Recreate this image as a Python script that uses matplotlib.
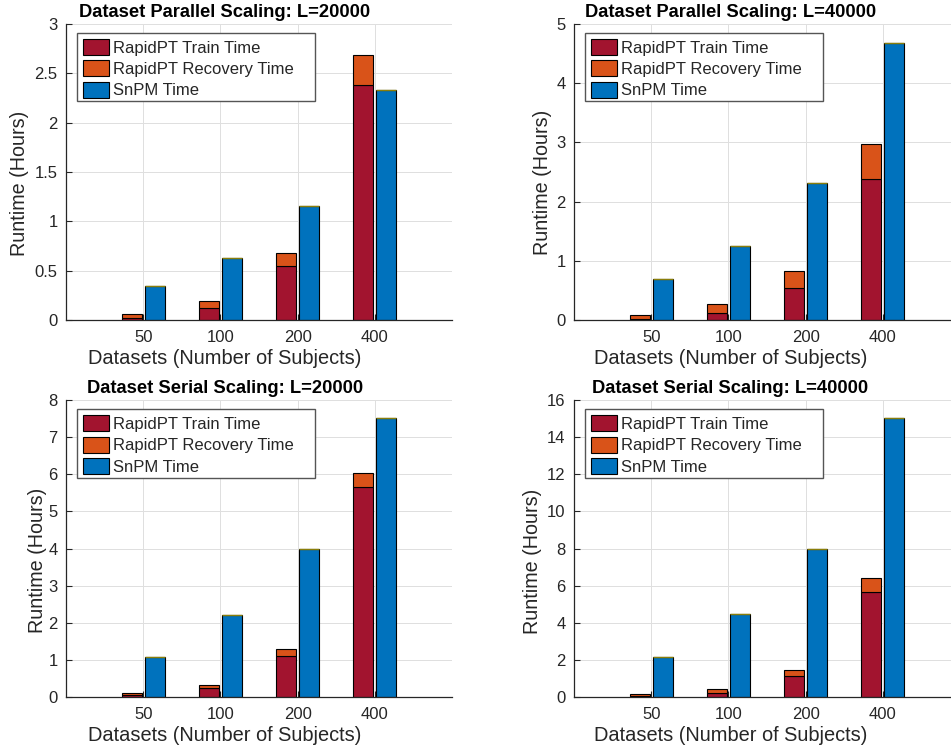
import numpy as np
import matplotlib
matplotlib.use("Agg")
import matplotlib.pyplot as plt
from matplotlib.patches import Rectangle

plt.rcParams['font.family'] = ['Liberation Sans', 'DejaVu Sans']

categories = ['50', '100', '200', '400']
series_names = ['RapidPT Train Time', 'RapidPT Recovery Time', 'SnPM Time']

titles = ['Dataset Parallel Scaling: L=20000', 'Dataset Parallel Scaling: L=40000',
          'Dataset Serial Scaling: L=20000', 'Dataset Serial Scaling: L=40000']

# Runtime in hours
train_par20 = [0.027, 0.128, 0.545, 2.38]
recov_par20 = [0.041, 0.067, 0.139, 0.30]
snpm_par20 = [0.346, 0.63, 1.155, 2.333]

train_par40 = [0.03, 0.13, 0.54, 2.38]
recov_par40 = [0.065, 0.14, 0.29, 0.59]
snpm_par40 = [0.70, 1.26, 2.31, 4.67]

train_ser20 = [0.054, 0.24, 1.11, 5.65]
recov_ser20 = [0.054, 0.09, 0.20, 0.38]
snpm_ser20 = [1.094, 2.22, 4.0, 7.51]

train_ser40 = [0.07, 0.23, 1.13, 5.68]
recov_ser40 = [0.09, 0.20, 0.36, 0.76]
snpm_ser40 = [2.19, 4.46, 8.0, 15.05]

ylims = [3, 5, 8, 16]
ysteps = [0.5, 1, 1, 2]

panels = [
    (train_par20, recov_par20, snpm_par20),
    (train_par40, recov_par40, snpm_par40),
    (train_ser20, recov_ser20, snpm_ser20),
    (train_ser40, recov_ser40, snpm_ser40),
]

RED = '#A2142F'
ORANGE = '#D95319'
BLUE = '#0072BD'
AXC = '#262626'

W, H = 951, 748
fig = plt.figure(figsize=(W / 100, H / 100), dpi=100)

# axes boxes in pixels: left, top, right, bottom
boxes = [(66, 23.7, 452, 320.3), (574, 23.7, 960, 320.3),
         (66, 400, 452, 697.3), (574, 400, 960, 697.3)]
ylabel_x = [-0.096, -0.057, -0.049, -0.083]
ylabel_y = [0.46, 0.466, 0.462, 0.457]
text_x = [0.411, 0.405, 0.412, 0.405]

axes = []
legends = []
for i, (train, recov, snpm) in enumerate(panels):
    l, t, r, b = boxes[i]
    ax = fig.add_axes([l / W, 1 - b / H, (r - l) / W, (b - t) / H])
    x = np.arange(1, len(categories) + 1)
    bw = 0.26
    off = 0.15
    h1 = ax.bar(x - off, train, bw, color=RED, edgecolor='k', linewidth=0.8, zorder=3,
                label=series_names[0])
    h2 = ax.bar(x - off, recov, bw, bottom=train, color=ORANGE, edgecolor='k', linewidth=0.8,
                zorder=3, label=series_names[1])
    h3 = ax.bar(x + off, snpm, bw, color=BLUE, edgecolor='k', linewidth=0.8, zorder=3,
                label=series_names[2])
    ax.hlines(snpm, x + off - bw / 2, x + off + bw / 2, colors='#8A7E0A', linewidth=1.0,
              zorder=3.5)

    ax.set_xlim(0, 5)
    ax.set_ylim(0, ylims[i])
    ax.set_xticks(x)
    ax.set_xticklabels(categories)
    yt = np.arange(0, ylims[i] + ysteps[i] / 2, ysteps[i])
    ax.set_yticks(yt)
    ax.set_yticklabels(['%g' % v for v in yt])
    ax.tick_params(direction='in', length=4, width=0.8, colors=AXC, labelsize=12,
                   labelcolor=AXC)
    ax.tick_params(axis='x', pad=7)
    ax.tick_params(axis='y', pad=6)
    ax.grid(True, color='#DFDFDF', linewidth=0.7, zorder=0)
    ax.set_axisbelow(True)
    for s in ['top', 'right']:
        ax.spines[s].set_visible(False)
    for s in ['left', 'bottom']:
        ax.spines[s].set_color(AXC)
        ax.spines[s].set_linewidth(0.9)
        ax.spines[s].set_zorder(4)

    ax.set_ylabel('Runtime (Hours)', fontsize=14.2, color=AXC)
    ax.yaxis.set_label_coords(ylabel_x[i], ylabel_y[i])
    ax.text(text_x[i], -0.098, 'Datasets (Number of Subjects)', transform=ax.transAxes,
            ha='center', va='top', fontsize=14.4, color=AXC)
    ax.text(text_x[i], 1.024, titles[i], transform=ax.transAxes, ha='center',
            va='baseline', fontsize=13.2, fontweight='bold', color='k')

    leg = ax.legend(handles=[h1, h2, h3], loc='upper left', bbox_to_anchor=(0.03, 0.965),
                    borderaxespad=0, fontsize=12, frameon=False,
                    handlelength=1.6, handleheight=1.1,
                    handletextpad=0.2, labelspacing=0.28, borderpad=0.3)
    leg.set_zorder(6)
    for txt in leg.get_texts():
        txt.set_color(AXC)
    axes.append(ax)
    legends.append(leg)

fig.canvas.draw()
inv = fig.transFigure.inverted()
for ax, leg in zip(axes, legends):
    bb = leg.get_window_extent()
    x0, y0 = bb.x0 - 1, bb.y0 + 2
    x1, y1 = bb.x1 + 17, bb.y1 + 1
    (fx0, fy0) = inv.transform((x0, y0))
    (fx1, fy1) = inv.transform((x1, y1))
    rect = Rectangle((fx0, fy0), fx1 - fx0, fy1 - fy0, transform=fig.transFigure,
                     facecolor='white', edgecolor='#555555', linewidth=1.0,
                     zorder=5.5, clip_on=False)
    ax.add_artist(rect)

fig.savefig('out.png', dpi=100)
